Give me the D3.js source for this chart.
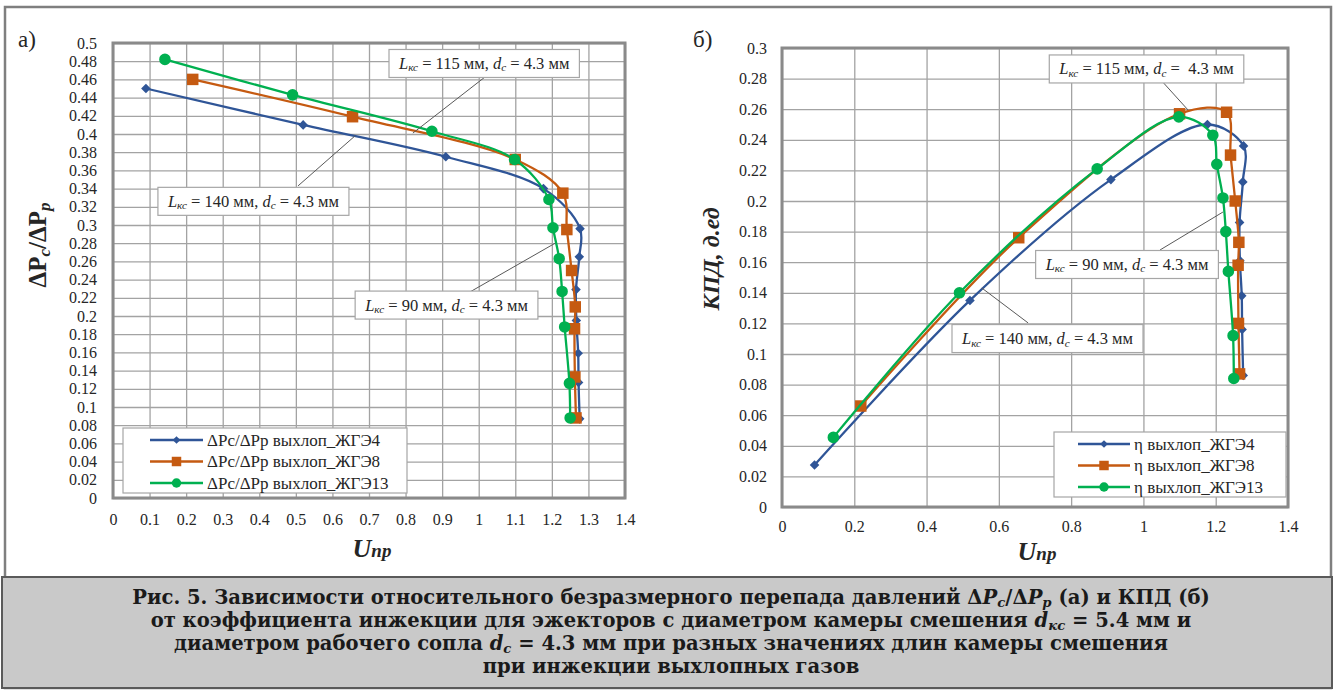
<!DOCTYPE html>
<html>
<head>
<meta charset="utf-8">
<script src="https://cdn.jsdelivr.net/npm/d3@7"></script>
<style>
    body { margin: 0; background: #fff; }
    text { font-family: "Liberation Serif", "Times New Roman", serif; fill: #262626; }
</style>
</head>
<body>
<div class="chart"></div>
<script>
let w = 1334, h = 691;
let svg = d3.select('.chart').append('svg').attr('width', w).attr('height', h);

/* ==== DATA ==== */

// injection coefficient U_пр
let u4 = [0.09, 0.52, 0.91, 1.177, 1.277, 1.275, 1.266, 1.267, 1.272, 1.273, 1.276];
let u8 = [0.218, 0.655, 1.10, 1.23, 1.241, 1.254, 1.264, 1.262, 1.263, 1.266];
let u13 = [0.142, 0.491, 0.872, 1.098, 1.192, 1.203, 1.22, 1.228, 1.235, 1.248, 1.25];

// ΔPc/ΔPp  (chart а)
let dp4 = [0.45, 0.41, 0.375, 0.34, 0.296, 0.265, 0.229, 0.195, 0.159, 0.127, 0.087];
let dp8 = [0.46, 0.419, 0.372, 0.335, 0.295, 0.25, 0.21, 0.186, 0.133, 0.088];
let dp13 = [0.482, 0.443, 0.403, 0.372, 0.328, 0.297, 0.263, 0.227, 0.188, 0.126, 0.088];

// КПД (chart б)
let eta4 = [0.0275, 0.135, 0.214, 0.25, 0.236, 0.2125, 0.186, 0.161, 0.138, 0.116, 0.086];
let eta8 = [0.066, 0.176, 0.257, 0.258, 0.23, 0.2, 0.173, 0.158, 0.12, 0.087];
let eta13 = [0.0455, 0.14, 0.221, 0.255, 0.243, 0.224, 0.202, 0.18, 0.154, 0.112, 0.084];

let seriesNames = ['выхлоп_ЖГЭ4', 'выхлоп_ЖГЭ8', 'выхлоп_ЖГЭ13'];
let colors = ['#2F5597', '#C55A11', '#00B050'];

let xTicksA = [0, 0.1, 0.2, 0.3, 0.4, 0.5, 0.6, 0.7, 0.8, 0.9, 1, 1.1, 1.2, 1.3, 1.4];
let yTicksA = [0, 0.02, 0.04, 0.06, 0.08, 0.1, 0.12, 0.14, 0.16, 0.18, 0.2, 0.22, 0.24, 0.26,
    0.28, 0.3, 0.32, 0.34, 0.36, 0.38, 0.4, 0.42, 0.44, 0.46, 0.48, 0.5];
let xTicksB = [0, 0.2, 0.4, 0.6, 0.8, 1, 1.2, 1.4];
let yTicksB = [0, 0.02, 0.04, 0.06, 0.08, 0.1, 0.12, 0.14, 0.16, 0.18, 0.2, 0.22, 0.24, 0.26, 0.28, 0.3];

// annotation labels: chamber length, box centre and leader line (data units)
let notesA = [
    { L: '115', gap: ' ', box: [1.015, 0.4775], from: [1.017, 0.4626], to: [0.82, 0.401] },
    { L: '140', gap: ' ', box: [0.384, 0.326], from: [0.506, 0.343], to: [0.662, 0.398] },
    { L: '90', gap: ' ', box: [0.912, 0.212], from: [0.976, 0.2264], to: [1.209, 0.280] }
];
let notesB = [
    { L: '115', gap: '\u00a0 ', box: [1.0086, 0.2863], from: [1.051, 0.2784], to: [1.1234, 0.2595] },
    { L: '90', gap: ' ', box: [0.9546, 0.1585], from: [1.046, 0.168], to: [1.22, 0.1928] },
    { L: '140', gap: ' ', box: [0.7346, 0.1101], from: [0.681, 0.1203], to: [0.553, 0.1431] }
];

/* ==== HELPERS ==== */

function fmt(d) {
    return String(+d.toFixed(2));
}

function marker(i, big) {
    if (i === 0) return d3.symbol().type(d3.symbolSquare).size(big ? 46 : 30)();
    if (i === 1) return d3.symbol().type(d3.symbolSquare).size(big ? 132 : 90)();
    return d3.symbol().type(d3.symbolCircle).size(big ? 105 : 70)();
}

// parts: [{t, i (italic), s (small/sub)}]
function rich(textSel, parts, size) {
    let shift = 0;
    parts.forEach(function (p) {
        let ts = textSel.append('tspan').text(p.t);
        if (p.i) ts.attr('font-style', 'italic');
        let want = p.s ? size * 0.15 : 0;
        if (want !== shift) ts.attr('dy', want - shift);
        shift = want;
        ts.attr('font-size', p.s ? size * 0.68 : size);
    });
}

/* ==== FRAME & CAPTION ==== */

svg.append('rect')
    .attr('x', 5).attr('y', 7)
    .attr('width', 1326).attr('height', 681)
    .attr('fill', 'none')
    .attr('stroke', '#7f7f7f')
    .attr('stroke-width', 2.5);

svg.append('rect')
    .attr('x', 2).attr('y', 577)
    .attr('width', 1330).attr('height', 111)
    .attr('fill', '#c9c9c9')
    .attr('stroke', '#5a5a5a')
    .attr('stroke-width', 2);

let captionLines = [
    [{ t: 'Рис. 5. Зависимости относительного безразмерного перепада давлений Δ' }, { t: 'P', i: 1 },
        { t: 'c', i: 1, s: 1 }, { t: '/Δ' }, { t: 'P', i: 1 }, { t: 'p', i: 1, s: 1 }, { t: ' (а) и КПД (б)' }],
    [{ t: 'от коэффициента инжекции для эжекторов с диаметром камеры смешения ' }, { t: 'd', i: 1 },
        { t: 'кс', i: 1, s: 1 }, { t: '  = 5.4 мм и' }],
    [{ t: 'диаметром рабочего сопла ' }, { t: 'd', i: 1 }, { t: 'c', i: 1, s: 1 },
        { t: '  = 4.3 мм при разных значениях длин камеры смешения' }],
    [{ t: 'при инжекции выхлопных газов' }]
];

let caption = svg.append('g')
    .style('font-family', '"DejaVu Serif", serif')
    .attr('font-weight', 'bold');

function drawCaption(size) {
    caption.selectAll('*').remove();
    captionLines.forEach(function (line, k) {
        let t = caption.append('text')
            .attr('x', 671)
            .attr('y', 604 + k * 23)
            .attr('text-anchor', 'middle')
            .style('font-family', '"DejaVu Serif", serif')
            .style('fill', '#1a1a1a');
        rich(t, line, size);
    });
}

drawCaption(20);
let firstW = caption.select('text').node().getBBox().width;
drawCaption(20 * 1078 / firstW);

/* ==== PANELS ==== */

function drawPanel(cfg) {
    let g = svg.append('g');

    let xScale = d3.scaleLinear().domain([0, 1.4]).range([cfg.left, cfg.right]);
    let yScale = d3.scaleLinear().domain([0, cfg.ymax]).range([cfg.bottom, cfg.top]);

    // grid
    g.append('g')
        .attr('transform', 'translate(0,' + cfg.bottom + ')')
        .call(d3.axisTop(xScale).tickValues(cfg.xTicks).tickSize(cfg.bottom - cfg.top).tickFormat(''))
        .call(function (a) { a.select('.domain').remove(); })
        .selectAll('line').attr('stroke', '#a3a3a3').attr('stroke-width', 1.3);

    g.append('g')
        .attr('transform', 'translate(' + cfg.left + ',0)')
        .call(d3.axisRight(yScale).tickValues(cfg.yTicks).tickSize(cfg.right - cfg.left).tickFormat(''))
        .call(function (a) { a.select('.domain').remove(); })
        .selectAll('line').attr('stroke', '#a3a3a3').attr('stroke-width', 1.3);

    // tick labels
    let xa = g.append('g')
        .attr('transform', 'translate(0,' + cfg.bottom + ')')
        .call(d3.axisBottom(xScale).tickValues(cfg.xTicks).tickSize(0).tickPadding(cfg.xPad).tickFormat(fmt));
    xa.select('.domain').remove();
    xa.selectAll('text').attr('font-size', 16).attr('font-family', null).style('fill', '#262626');

    let ya = g.append('g')
        .attr('transform', 'translate(' + cfg.left + ',0)')
        .call(d3.axisLeft(yScale).tickValues(cfg.yTicks).tickSize(0).tickPadding(cfg.yPad).tickFormat(fmt));
    ya.select('.domain').remove();
    ya.selectAll('text').attr('font-size', 16).attr('font-family', null).style('fill', '#262626');

    // plot border
    g.append('rect')
        .attr('x', cfg.left).attr('y', cfg.top)
        .attr('width', cfg.right - cfg.left).attr('height', cfg.bottom - cfg.top)
        .attr('fill', 'none')
        .attr('stroke', '#8a8a8a')
        .attr('stroke-width', 3);

    // series
    let line = d3.line()
        .x(function (d) { return xScale(d[0]); })
        .y(function (d) { return yScale(d[1]); })
        .curve(d3.curveCatmullRom.alpha(0.5));

    cfg.series.forEach(function (s, i) {
        let pts = s.x.map(function (v, k) { return [v, s.y[k]]; });
        g.append('path')
            .datum(pts)
            .attr('d', line)
            .attr('fill', 'none')
            .attr('stroke', colors[i])
            .attr('stroke-width', 2.3);
        g.selectAll('.m' + i)
            .data(pts)
            .enter().append('path')
            .attr('class', 'm' + i)
            .attr('d', marker(i, true))
            .attr('fill', colors[i])
            .attr('transform', function (d) {
                return 'translate(' + xScale(d[0]) + ',' + yScale(d[1]) + ')' + (i === 0 ? ' rotate(45)' : '');
            });
    });

    // annotations
    cfg.notes.forEach(function (n) {
        g.append('line')
            .attr('x1', xScale(n.from[0])).attr('y1', yScale(n.from[1]))
            .attr('x2', xScale(n.to[0])).attr('y2', yScale(n.to[1]))
            .attr('stroke', '#595959')
            .attr('stroke-width', 1);
        let box = g.append('rect').attr('fill', '#fff').attr('stroke', '#a6a6a6').attr('stroke-width', 1.2);
        let t = g.append('text')
            .attr('x', xScale(n.box[0]))
            .attr('y', yScale(n.box[1]) + 5.5)
            .attr('text-anchor', 'middle');
        rich(t, [{ t: 'L', i: 1 }, { t: 'кс', i: 1, s: 1 }, { t: ' = ' + n.L + ' мм, ' }, { t: 'd', i: 1 },
            { t: 'c', i: 1, s: 1 }, { t: ' =' + n.gap + '4.3 мм' }], 16.5);
        let bw = t.node().getComputedTextLength() + 20;
        box.attr('x', xScale(n.box[0]) - bw / 2)
            .attr('y', yScale(n.box[1]) - 14)
            .attr('width', bw)
            .attr('height', 28);
    });

    // legend
    let lg = g.append('g').attr('transform', 'translate(' + cfg.legend[0] + ',' + cfg.legend[1] + ')');
    lg.append('rect')
        .attr('width', cfg.legend[2]).attr('height', 65)
        .attr('fill', '#fff')
        .attr('stroke', '#a6a6a6')
        .attr('stroke-width', 1.2);
    seriesNames.forEach(function (name, i) {
        let yy = 12 + i * 21.5;
        lg.append('line')
            .attr('x1', cfg.legendLine[0]).attr('x2', cfg.legendLine[1])
            .attr('y1', yy).attr('y2', yy)
            .attr('stroke', colors[i]).attr('stroke-width', 2.3);
        lg.append('path')
            .attr('d', marker(i, false))
            .attr('fill', colors[i])
            .attr('transform', 'translate(' + (cfg.legendLine[0] + cfg.legendLine[1]) / 2 + ',' + yy + ')' + (i === 0 ? ' rotate(45)' : ''));
        lg.append('text')
            .attr('x', cfg.legendLine[1] + 4)
            .attr('y', yy + 5.5)
            .attr('font-size', 17)
            .text(cfg.legendPrefix + ' ' + name);
    });

    // panel letter
    svg.append('text')
        .attr('x', cfg.letter[0]).attr('y', cfg.letter[1])
        .attr('font-size', 23)
        .text(cfg.letterText);

    // x title
    let xt = svg.append('text')
        .attr('x', cfg.xTitle[0]).attr('y', cfg.xTitle[1])
        .attr('text-anchor', 'middle')
        .attr('font-weight', 'bold')
        .attr('font-style', 'italic');
    xt.append('tspan').attr('font-size', 26).text('U');
    xt.append('tspan').attr('font-size', 19).text('пр');

    // y title
    let yt = svg.append('text')
        .attr('transform', 'translate(' + cfg.yTitle[0] + ',' + cfg.yTitle[1] + ') rotate(-90)')
        .attr('text-anchor', 'middle')
        .attr('font-weight', 'bold');
    cfg.yTitleParts(yt);
}

drawPanel({
    left: 113, right: 625, top: 43, bottom: 498, ymax: 0.5,
    xTicks: xTicksA, yTicks: yTicksA, xPad: 16, yPad: 16,
    series: [{ x: u4, y: dp4 }, { x: u8, y: dp8 }, { x: u13, y: dp13 }],
    notes: notesA,
    legend: [123, 428, 284], legendLine: [27, 80], legendPrefix: 'ΔPc/ΔPp',
    letter: [18, 47], letterText: 'а)',
    xTitle: [372, 557],
    yTitle: [46, 245],
    yTitleParts: function (t) {
        rich(t, [{ t: 'ΔP' }, { t: 'c', i: 1, s: 1 }, { t: '/ΔP' }, { t: 'p', i: 1, s: 1 }], 25);
    }
});

drawPanel({
    left: 782, right: 1288, top: 48, bottom: 507, ymax: 0.3,
    xTicks: xTicksB, yTicks: yTicksB, xPad: 14, yPad: 15,
    series: [{ x: u4, y: eta4 }, { x: u8, y: eta8 }, { x: u13, y: eta13 }],
    notes: notesB,
    legend: [1054, 432, 232], legendLine: [24, 76], legendPrefix: 'η',
    letter: [693, 47], letterText: 'б)',
    xTitle: [1037, 560],
    yTitle: [719, 259],
    yTitleParts: function (t) {
        t.attr('font-style', 'italic').attr('font-size', 24).text('КПД, д.ед');
    }
});
</script>
</body>
</html>
